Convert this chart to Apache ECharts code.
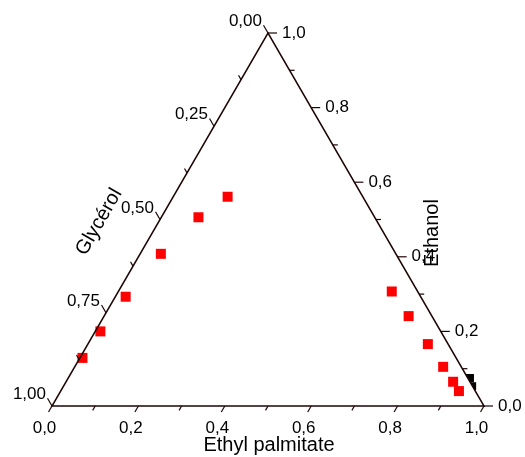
<!DOCTYPE html>
<html><head><meta charset="utf-8">
<script src="https://cdn.jsdelivr.net/npm/echarts@6/dist/echarts.min.js"></script>
<style>html,body{margin:0;padding:0;background:#fff}#c{width:525px;height:457px}</style>
</head><body><div id="c"></div>
<script>
// Ternary data (fractions): Ethyl palmitate, Ethanol, Glycérol
const ethylPalmitate = [0.006, 0.012, 0.024, 0.048, 0.086, 0.126, 0.633, 0.705, 0.787, 0.853, 0.896, 0.922];
const ethanol        = [0.129, 0.200, 0.293, 0.408, 0.506, 0.561, 0.307, 0.241, 0.166, 0.105, 0.065, 0.040];
const glycerol       = [0.865, 0.788, 0.683, 0.544, 0.408, 0.313, 0.060, 0.054, 0.047, 0.042, 0.039, 0.038];
// second (black) series, mostly hidden outside the right edge
const blackEthylPalmitate = [0.930, 0.946];
const blackEthanol        = [0.075, 0.053];
const blackGlycerol       = [-0.005, 0.001];
// triangle corners (Ethyl palmitate, Ethanol)
const cornerEthylPalmitate = [0, 1, 0];
const cornerEthanol        = [0, 0, 1];
// axis ticks
const epMajor = [0, 0.2, 0.4, 0.6, 0.8, 1.0];
const epLabels = ['0,0', '0,2', '0,4', '0,6', '0,8', '1,0'];
const epMinor = [0.1, 0.3, 0.5, 0.7, 0.9];
const etMajor = [0, 0.2, 0.4, 0.6, 0.8, 1.0];
const etLabels = ['0,0', '0,2', '0,4', '0,6', '0,8', '1,0'];
const etMinor = [0.1, 0.3, 0.5, 0.7, 0.9];
const glMajor = [0, 0.25, 0.5, 0.75, 1.0];
const glLabels = ['0,00', '0,25', '0,50', '0,75', '1,00'];
const glMinor = [0.125, 0.375, 0.625, 0.875];

const S3 = Math.sqrt(3) / 2;
function toXY(p, e) { return [p + e / 2, e * S3]; }
// axis 0 = bottom (Ethyl palmitate), 1 = right (Ethanol), 2 = left (Glycérol)
function axisPoint(axis, v) {
  if (axis === 0) return toXY(v, 0);
  if (axis === 1) return toXY(1 - v, v);
  return toXY(0, 1 - v);
}
const DIRS = [[-0.5, 0.866], [1, 0], [-0.5, -0.866]];
const LINE = '#1e0505';
const FONT = '"Liberation Sans", Arial, sans-serif';

const tickData = [];
epMajor.forEach(v => tickData.push([0, v, 1]));
epMinor.forEach(v => tickData.push([0, v, 0]));
etMajor.forEach(v => tickData.push([1, v, 1]));
etMinor.forEach(v => tickData.push([1, v, 0]));
glMajor.forEach(v => tickData.push([2, v, 1]));
glMinor.forEach(v => tickData.push([2, v, 0]));

const labelData = [];
epMajor.forEach((v, i) => labelData.push({ value: [0, v], name: epLabels[i] }));
etMajor.forEach((v, i) => labelData.push({ value: [1, v], name: etLabels[i] }));
glMajor.forEach((v, i) => labelData.push({ value: [2, v], name: glLabels[i] }));

const redData = ethylPalmitate.map((p, i) => toXY(p, ethanol[i]));
const blackData = blackEthylPalmitate.map((p, i) => toXY(p, blackEthanol[i]));

function framePoints(api) {
  return cornerEthylPalmitate.map((p, i) => api.coord(toXY(p, cornerEthanol[i])));
}

const chart = echarts.init(document.getElementById('c'), null, { renderer: 'canvas' });
chart.setOption({
  animation: false,
  backgroundColor: '#fff',
  grid: { left: 52, right: 41, top: 33, bottom: 51 },
  xAxis: { type: 'value', min: 0, max: 1, show: false },
  yAxis: { type: 'value', min: 0, max: S3, show: false },
  series: [
    { type: 'scatter', z: 1, symbol: 'rect', symbolSize: 8, data: blackData,
      itemStyle: { color: '#000', opacity: 1 } },
    { type: 'custom', z: 2, clip: false, data: [[0]],
      renderItem: (params, api) => ({ type: 'polygon', shape: { points: framePoints(api) },
        style: { fill: '#fff', stroke: 'none' } }) },
    { type: 'scatter', z: 3, symbol: 'rect', symbolSize: 10, data: redData,
      itemStyle: { color: '#ff0000', opacity: 1 } },
    { type: 'custom', z: 4, clip: false, data: [[0]],
      renderItem: (params, api) => ({ type: 'polygon', shape: { points: framePoints(api) },
        style: { fill: 'none', stroke: LINE, lineWidth: 1.5 } }) },
    { type: 'custom', z: 4, clip: false, data: tickData,
      renderItem: (params, api) => {
        const axis = api.value(0), v = api.value(1), maj = api.value(2);
        const pt = api.coord(axisPoint(axis, v));
        const d = DIRS[axis];
        const len = axis === 0 ? (maj ? 7 : 5) : (maj ? 9 : 5);
        return { type: 'line', shape: { x1: pt[0], y1: pt[1], x2: pt[0] + d[0] * len, y2: pt[1] + d[1] * len },
          style: { stroke: LINE, lineWidth: 1.2 } };
      } },
    { type: 'custom', z: 5, clip: false, data: labelData,
      renderItem: (params, api) => {
        const axis = api.value(0), v = api.value(1);
        const pt = api.coord(axisPoint(axis, v));
        const text = labelData[params.dataIndex].name;
        let x, y, align;
        if (axis === 0) { x = pt[0] - 7.5; y = pt[1] + 22; align = 'center'; }
        else if (axis === 1) { x = pt[0] + 14; y = pt[1]; align = 'left'; }
        else { x = pt[0] - 6; y = pt[1] - 11.5; align = 'right'; }
        return { type: 'text', x, y, style: { text, align, verticalAlign: 'middle',
          font: '17px ' + FONT, fill: '#000' } };
      } }
  ],
  graphic: [
    { type: 'text', x: 269, y: 445, z: 10, style: { text: 'Ethyl palmitate', align: 'center', verticalAlign: 'middle', font: '20px ' + FONT, fill: '#000' } },
    { type: 'text', x: 432, y: 233, z: 10, rotation: Math.PI / 2, style: { text: 'Ethanol', align: 'center', verticalAlign: 'middle', font: '20px ' + FONT, fill: '#000' } },
    { type: 'text', x: 99, y: 222, z: 10, rotation: Math.PI / 3, style: { text: 'Glycérol', align: 'center', verticalAlign: 'middle', font: '20px ' + FONT, fill: '#000' } }
  ]
});
</script></body></html>
